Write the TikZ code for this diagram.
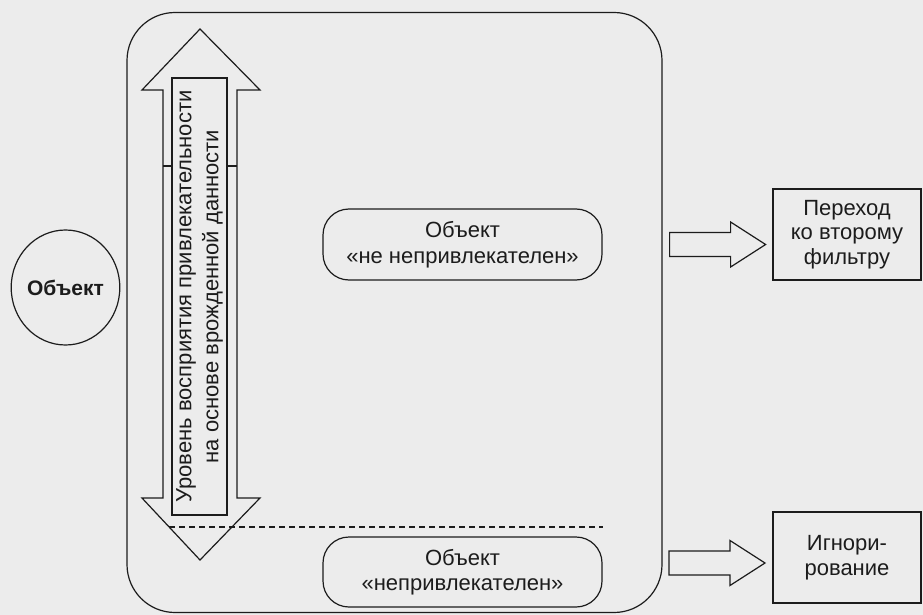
\documentclass[tikz,border=0pt]{standalone}
\usepackage{fontspec}
\setmainfont{Liberation Sans}
\usetikzlibrary{shapes.geometric}
\definecolor{bg}{RGB}{236,236,236}
\definecolor{ink}{RGB}{28,28,28}
\begin{document}
\begin{tikzpicture}[x=1pt,y=-1pt,
  line/.style={draw=ink, line width=1.2pt},
  txt/.style={font=\fontsize{22}{25.5}\selectfont, text=ink, align=center},
  blockarrow/.pic={\draw[draw=ink, line width=1.2pt, line join=miter]
     (0,-12) -- (61,-12) -- (61,-22.5) -- (96,0) -- (61,22.5) -- (61,12) -- (0,12) -- cycle;}
]
\fill[bg] (0,0) rectangle (923,615);
\useasboundingbox (0,0) rectangle (923,615);

% frame
\node[line, rounded corners=48pt, minimum width=535pt, minimum height=600pt, inner sep=0pt] (frame) at (394.5,312.5) {};

% object circle
\node[line, ellipse, minimum width=107pt, minimum height=115pt, inner sep=0pt, txt,
      font=\bfseries\fontsize{21}{25}\selectfont] (obj) at (65.5,287.5) {Объект};

% double arrow
\draw[line, line join=miter] (200,29) -- (260,90) -- (237,90) -- (237,498) -- (260,498)
   -- (200,560) -- (142,498) -- (163,498) -- (163,90) -- (142,90) -- cycle;

% level box with rotated text
\node[line, rotate=90, minimum width=437pt, minimum height=55pt, inner sep=1pt, txt,
      font=\fontsize{22}{27}\selectfont] (level) at (199.5,296.5)
      {Уровень восприятия привлекательности\\на основе врожденной данности};
\draw[line] (163,166) -- (level.north |- 0,166);
\draw[line] (level.south |- 0,166) -- (237,166);

% dashed divider
\coordinate (d1) at (169,527);
\coordinate (d2) at (603,527);
\draw[draw=ink, line width=1.1pt, dash pattern=on 6pt off 4pt] (d1) -- (d2);

% object state boxes
\node[line, rounded corners=26pt, minimum width=279pt, minimum height=71pt, txt] (notun) at (462.5,244.5)
      {Объект\\«не непривлекателен»};
\node[line, rounded corners=26pt, minimum width=279pt, minimum height=70pt, txt] (un) at (462.5,572)
      {Объект\\«непривлекателен»};

% outcome boxes
\node[line, minimum width=148pt, minimum height=91pt, txt, font=\fontsize{22}{24.5}\selectfont] (pass) at (847,234.5)
      {Переход\\ко второму\\фильтру};
\node[line, minimum width=148pt, minimum height=91pt, txt, font=\fontsize{22}{24.5}\selectfont] (ign) at (847,557.5)
      {Игнори-\\рование};

% block arrows
\pic at ([xshift=7pt]frame.east |- notun.center) {blockarrow};
\coordinate (a2) at (669,563);
\pic at (a2) {blockarrow};
\end{tikzpicture}
\end{document}
